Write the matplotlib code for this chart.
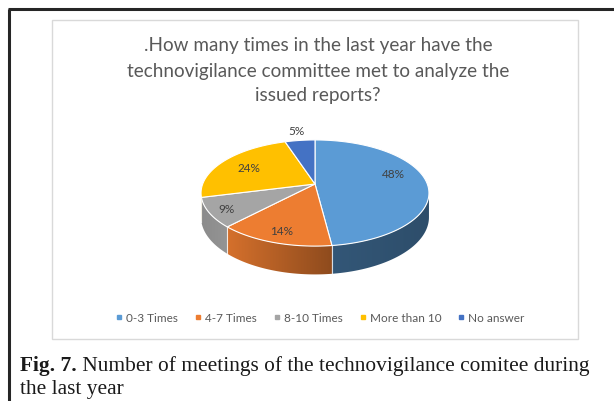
import numpy as np
import matplotlib
matplotlib.use("Agg")
import matplotlib.pyplot as plt
from matplotlib.patches import Polygon, Rectangle
from matplotlib.lines import Line2D
import matplotlib.colors as mcolors

# ---------------- data ----------------
categories = ["0-3 Times", "4-7 Times", "8-10 Times", "More than 10", "No answer"]
values = [48, 14, 9, 24, 5]
pct_labels = ["48%", "14%", "9%", "24%", "5%"]
title_lines = [".How many times in the last year have the",
               "technovigilance committee met to analyze the",
               "issued reports?"]
caption_bold = "Fig. 7."
caption_rest = " Number of meetings of the technovigilance comitee during"
caption_line2 = "the last year"

# ---------------- style ----------------
colors = ["#5B9BD5", "#ED7D31", "#A5A5A5", "#FFC000", "#4472C4"]
side_shade = [(0.56, 0.50), (0.90, 0.60), (0.84, 0.90), (0.72, 0.72), (0.5, 0.5)]  # (left, right)
label_r = [0.75, 0.83, 0.85, 0.71, 1.29]
label_dtheta = [-12, 0, 0, 0, 0]
text_gray = "#595959"
label_gray = "#404040"
sans = ["Lato", "DejaVu Sans"]
serif = ["Liberation Serif", "DejaVu Serif"]

W, H = 614, 402
fig = plt.figure(figsize=(W / 100, H / 100), dpi=100)
ax = fig.add_axes([0, 0, 1, 1])
ax.set_xlim(0, W)
ax.set_ylim(H, 0)
ax.axis("off")

# outer frame (top and left dark lines)
ax.add_line(Line2D([8, W], [10, 10], color="#262626", lw=2.2, solid_capstyle="butt"))
ax.add_line(Line2D([9, 9], [10, H], color="#262626", lw=2.2, solid_capstyle="butt"))
# chart area border
ax.add_patch(Rectangle((52, 21), 526, 319, fill=False, ec="#D9D9D9", lw=1.0))

# title
title_y = [46, 71, 96]
for line, ty in zip(title_lines, title_y):
    ax.text(318, ty, line, ha="center", va="center", fontsize=13.6,
            color=text_gray, family=sans)

# ---------------- 3D pie ----------------
cx, cy = 315, 185
k, s, p = 112.3, 0.459, 0.17
d0 = 23.5


def proj(theta_deg, r=1.0, h=0.0):
    t = np.radians(theta_deg)
    X = r * np.sin(t)
    Z = r * np.cos(t)
    den = 1 + p * Z
    return cx + k * X / den, cy - k * s * Z / den + h * d0 / den


def shade(c, f):
    rgb = np.array(mcolors.to_rgb(c))
    return np.clip(rgb * f, 0, 1)


total = float(sum(values))
bounds = np.concatenate([[0], np.cumsum(values) / total * 360.0])
vis_lo = 90 + np.degrees(np.arcsin(p))
vis_hi = 270 - np.degrees(np.arcsin(p))

# sides with horizontal gradient
for i, c in enumerate(colors):
    a0, a1 = bounds[i], bounds[i + 1]
    lo, hi = max(a0, vis_lo), min(a1, vis_hi)
    if hi <= lo:
        continue
    ts = np.linspace(lo, hi, 80)
    top = [proj(t) for t in ts]
    bot = [proj(t, h=1) for t in ts[::-1]]
    pts = np.array(top + bot)
    fL, fR = side_shade[i]
    xl, xr = pts[:, 0].min(), pts[:, 0].max()
    yt, yb = pts[:, 1].min(), pts[:, 1].max()
    g = np.linspace(0, 1, 64)
    cols = np.array([shade(c, fL + (fR - fL) * u) for u in g])
    img = np.tile(cols[None, :, :], (4, 1, 1))
    poly = Polygon(pts, closed=True, fc="none", ec="none", zorder=2)
    ax.add_patch(poly)
    im = ax.imshow(img, extent=(xl - 1, xr + 1, yb + 1, yt - 1), aspect="auto",
                   interpolation="bilinear", zorder=2)
    im.set_clip_path(poly)

ax.set_xlim(0, W)
ax.set_ylim(H, 0)

# boundary lines on side
for b in bounds:
    if vis_lo < b < vis_hi:
        x0, y0 = proj(b)
        x1, y1 = proj(b, h=1)
        ax.add_line(Line2D([x0, x1], [y0, y1], color="white", lw=0.8, alpha=0.8, zorder=3))

# top faces
for i, c in enumerate(colors):
    a0, a1 = bounds[i], bounds[i + 1]
    ts = np.linspace(a0, a1, max(3, int(a1 - a0) + 2))
    pts = [(cx, cy)] + [proj(t) for t in ts]
    ax.add_patch(Polygon(pts, closed=True, fc=c, ec="white", lw=0.8, zorder=4,
                         joinstyle="round"))

# data labels
for i, lab in enumerate(pct_labels):
    mid = (bounds[i] + bounds[i + 1]) / 2 + label_dtheta[i]
    x, y = proj(mid, r=label_r[i])
    ax.text(x, y, lab, ha="center", va="center", fontsize=8.5, color=label_gray,
            family=sans, zorder=5)

# legend
handles = [Line2D([], [], ls="none", marker="s", markersize=3.2, mfc=c, mec=c)
           for c in colors]
leg = fig.legend(handles, categories, loc="center", ncol=5, frameon=False,
                 bbox_to_anchor=(320 / W, 1 - 319 / H), handlelength=0.6,
                 handletextpad=0.3, columnspacing=1.4, borderaxespad=0,
                 prop={"family": sans, "size": 8.5})
for t in leg.get_texts():
    t.set_color(text_gray)

# caption
fig.canvas.draw()
r = fig.canvas.get_renderer()
cap_fs = 15.4
tb = ax.text(20, 366, caption_bold, ha="left", va="center", fontsize=cap_fs,
             fontweight="bold", color="#1a1a1a", family=serif)
bb = tb.get_window_extent(renderer=r)
x_after = ax.transData.inverted().transform((bb.x1, bb.y0))[0]
ax.text(x_after, 366, caption_rest, ha="left", va="center", fontsize=cap_fs,
        color="#1a1a1a", family=serif)
ax.text(20, 390, caption_line2, ha="left", va="center", fontsize=cap_fs,
        color="#1a1a1a", family=serif)

fig.savefig("out.png", dpi=100)
